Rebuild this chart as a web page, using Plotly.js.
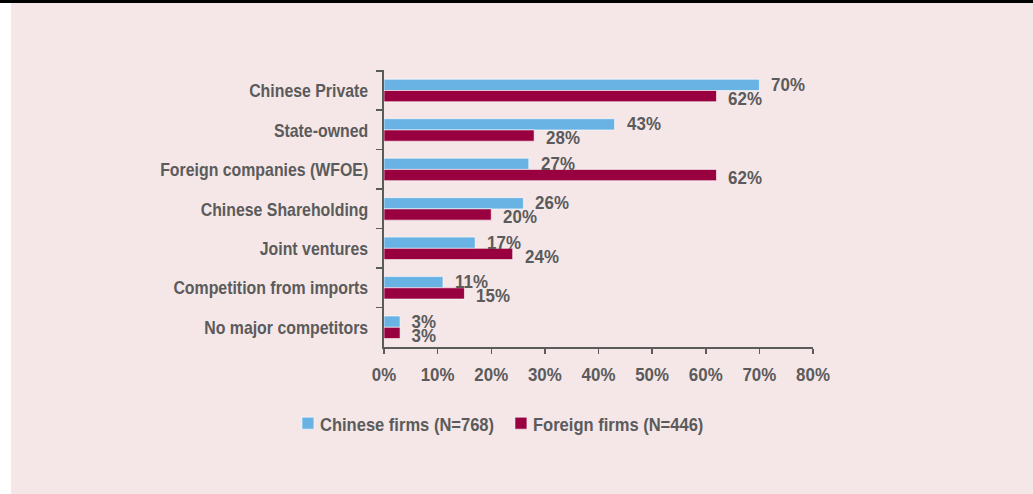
<!DOCTYPE html>
<html>
<head>
<meta charset="utf-8">
<script src="https://cdn.plot.ly/plotly-3.0.1.min.js"></script>
<style>
  html, body { margin: 0; padding: 0; background: #ffffff; width: 1033px; height: 494px; overflow: hidden; }
  #topbar { position: absolute; left: 0; top: 0; width: 1033px; height: 3px; background: #000000; }
  #chart { position: absolute; left: 11px; top: 3px; width: 1022px; height: 491px; }
</style>
</head>
<body>
<div id="topbar"></div>
<div id="chart"></div>
<script>
const categories = [
  "Chinese Private",
  "State-owned",
  "Foreign companies (WFOE)",
  "Chinese Shareholding",
  "Joint ventures",
  "Competition from imports",
  "No major competitors"
];
const chineseFirms = [70, 43, 27, 26, 17, 11, 3];
const foreignFirms = [62, 28, 62, 20, 24, 15, 3];
const seriesNames = ["Chinese firms (N=768)", "Foreign firms (N=446)"];
const xTickValues = [0, 10, 20, 30, 40, 50, 60, 70, 80];
const xTickLabels = ["0%", "10%", "20%", "30%", "40%", "50%", "60%", "70%", "80%"];

const FONT = '"Liberation Sans", Arial, Helvetica, sans-serif';
const GREY = '#5b5b5b';
const BLUE = '#69b2e4';
const MAROON = '#99003f';
const FS = 19;

const traces = [
  {
    type: 'bar', orientation: 'h', name: seriesNames[0],
    y: categories, x: chineseFirms,
    marker: { color: BLUE, line: { color: 'rgba(255,255,255,0.6)', width: 1 } },
    hoverinfo: 'none'
  },
  {
    type: 'bar', orientation: 'h', name: seriesNames[1],
    y: categories, x: foreignFirms,
    marker: { color: MAROON, line: { color: 'rgba(255,255,255,0.6)', width: 1 } },
    hoverinfo: 'none'
  }
];

const annotations = [];
const seriesVals = [chineseFirms, foreignFirms];
const yShifts = [6, -8];
seriesVals.forEach((vals, s) => {
  vals.forEach((v, i) => {
    annotations.push({
      x: v, y: categories[i], xref: 'x', yref: 'y',
      text: v + '%', showarrow: false,
      xanchor: 'left', yanchor: 'middle',
      xshift: 8, yshift: yShifts[s],
      font: { family: FONT, size: FS, color: GREY, weight: 'bold' }
    });
  });
});

const layout = {
  width: 1022, height: 491,
  paper_bgcolor: '#f5e7e8',
  plot_bgcolor: '#f5e7e8',
  margin: { l: 373, r: 220, t: 67, b: 147, pad: 0 },
  barmode: 'group',
  bargap: 0.43,
  bargroupgap: 0,
  font: { family: FONT, color: GREY, size: FS, weight: 'bold' },
  showlegend: true,
  legend: {
    orientation: 'h', xref: 'container', yref: 'container',
    x: 0.271, xanchor: 'left', y: 0.144, yanchor: 'middle',
    entrywidth: 168, entrywidthmode: 'pixels',
    font: { family: FONT, size: FS, color: GREY, weight: 'bold' },
    bgcolor: 'rgba(0,0,0,0)', itemclick: false, itemdoubleclick: false
  },
  xaxis: {
    range: [0, 80], tickvals: xTickValues, ticktext: xTickLabels,
    showgrid: false, zeroline: false,
    showline: true, linecolor: GREY, linewidth: 2,
    ticks: 'outside', ticklen: 5, tickwidth: 1.5, tickcolor: GREY,
    ticklabelstandoff: 4,
    tickfont: { family: FONT, size: FS, color: GREY, weight: 'bold' },
    fixedrange: true
  },
  yaxis: {
    autorange: 'reversed', type: 'category',
    showgrid: false, zeroline: false,
    showline: true, linecolor: GREY, linewidth: 2,
    ticks: 'outside', ticklen: 6, tickwidth: 1.5, tickcolor: GREY,
    tickson: 'boundaries',
    ticklabelstandoff: 10,
    tickfont: { family: FONT, size: FS, color: GREY, weight: 'bold' },
    fixedrange: true
  },
  annotations: annotations
};

// Narrow the text horizontally to imitate the condensed typeface of the original.
function condense(gd) {
  const groups = [
    ['.ytick text', 0.835],
    ['.xtick text', 0.89],
    ['.annotation-text', 0.89],
    ['.legendtext', 0.87]
  ];
  groups.forEach(([sel, k]) => {
    gd.querySelectorAll(sel).forEach(t => {
      const len = t.getComputedTextLength();
      if (len > 0) {
        t.setAttribute('textLength', (len * k).toFixed(2));
        t.setAttribute('lengthAdjust', 'spacingAndGlyphs');
      }
    });
  });
  gd.querySelectorAll('.legendtext').forEach(t => {
    t.setAttribute('x', '32');
  });
}

Plotly.newPlot('chart', traces, layout, { displayModeBar: false, staticPlot: true })
  .then(gd => condense(gd));
</script>
</body>
</html>
